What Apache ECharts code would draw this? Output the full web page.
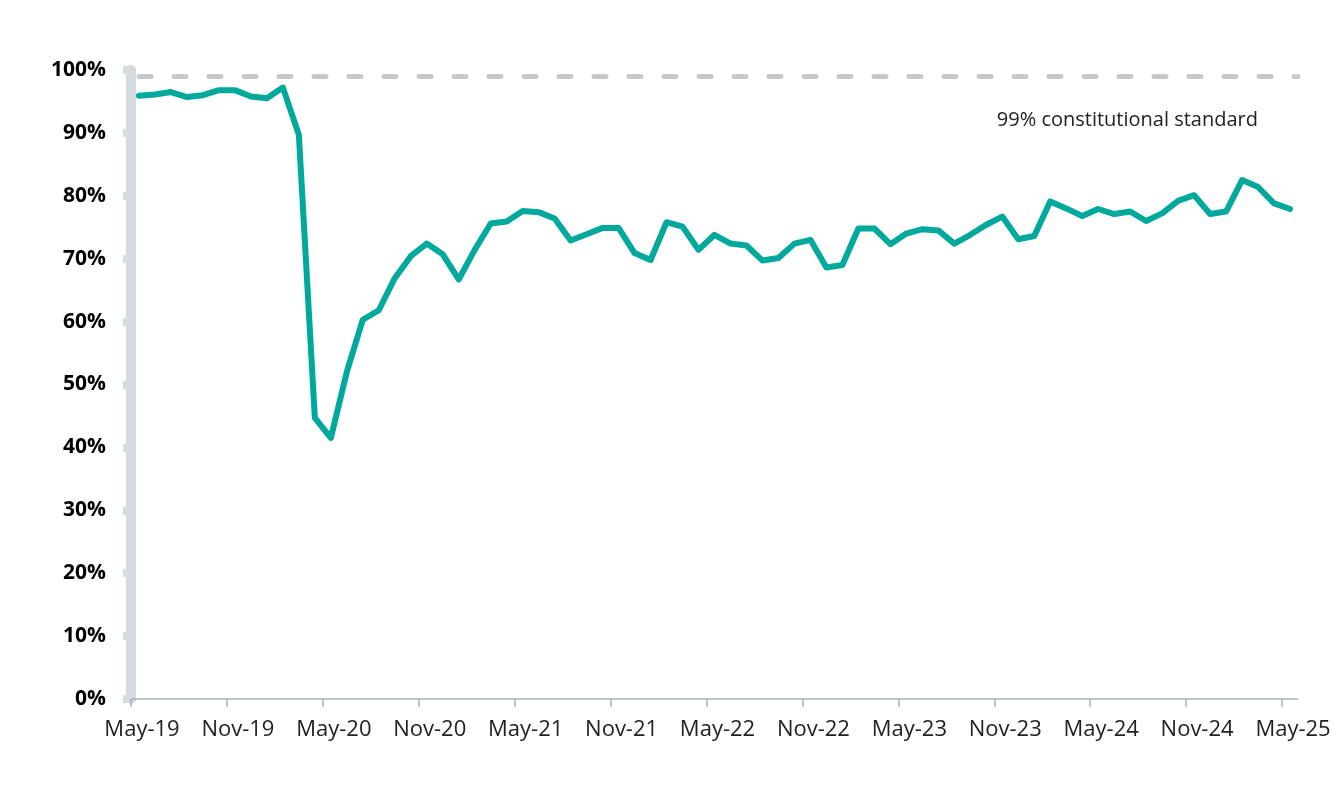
<!DOCTYPE html>
<html>
<head>
<meta charset="utf-8">
<script src="https://cdn.jsdelivr.net/npm/echarts@6/dist/echarts.min.js"></script>
<style>
html,body{margin:0;padding:0;background:#fff;}
#chart{width:1337px;height:788px;}
</style>
</head>
<body>
<div id="chart"></div>
<script>
// Months May-19 .. May-25
const categories = [
 'May-19','Jun-19','Jul-19','Aug-19','Sep-19','Oct-19','Nov-19','Dec-19','Jan-20','Feb-20','Mar-20','Apr-20',
 'May-20','Jun-20','Jul-20','Aug-20','Sep-20','Oct-20','Nov-20','Dec-20','Jan-21','Feb-21','Mar-21','Apr-21',
 'May-21','Jun-21','Jul-21','Aug-21','Sep-21','Oct-21','Nov-21','Dec-21','Jan-22','Feb-22','Mar-22','Apr-22',
 'May-22','Jun-22','Jul-22','Aug-22','Sep-22','Oct-22','Nov-22','Dec-22','Jan-23','Feb-23','Mar-23','Apr-23',
 'May-23','Jun-23','Jul-23','Aug-23','Sep-23','Oct-23','Nov-23','Dec-23','Jan-24','Feb-24','Mar-24','Apr-24',
 'May-24','Jun-24','Jul-24','Aug-24','Sep-24','Oct-24','Nov-24','Dec-24','Jan-25','Feb-25','Mar-25','Apr-25',
 'May-25'
];
// Percentage within standard
const values = [
 95.9, 96.1, 96.5, 95.7, 96.0, 96.8, 96.8, 95.8, 95.5, 97.2, 89.7, 44.7,
 41.5, 52.0, 60.3, 61.8, 66.9, 70.4, 72.4, 70.7, 66.7, 71.4, 75.6, 75.9,
 77.6, 77.4, 76.4, 72.9, 73.9, 74.9, 74.9, 70.9, 69.8, 75.8, 75.1, 71.4,
 73.8, 72.4, 72.1, 69.7, 70.1, 72.4, 73.0, 68.6, 69.0, 74.8, 74.8, 72.3,
 74.0, 74.7, 74.5, 72.4, 73.8, 75.4, 76.7, 73.1, 73.6, 79.1, 78.0, 76.8,
 77.9, 77.1, 77.5, 76.0, 77.2, 79.2, 80.1, 77.1, 77.5, 82.5, 81.4, 78.8,
 77.9
];
const standard = 99;
const standardLabel = '99% constitutional standard';
const yTicks = [0,10,20,30,40,50,60,70,80,90,100];
const labelEvery = 6;

const seriesData = values.map((v, i) => [i + 0.5, v]);
const xTickValues = categories.map((c, i) => i).filter(i => i % labelEvery === 0);

const chart = echarts.init(document.getElementById('chart'), null, {renderer: 'canvas'});
chart.setOption({
  animation: false,
  backgroundColor: '#ffffff',
  textStyle: {fontFamily: '"Open Sans", "Noto Sans", sans-serif'},
  grid: {left: 131, right: 39, top: 70, bottom: 89, containLabel: false},
  title: {
    text: standardLabel,
    right: 74, top: 105,
    textStyle: {fontFamily: '"Open Sans", sans-serif', fontSize: 20, fontWeight: 'normal', color: '#222'}
  },
  xAxis: {
    type: 'value',
    min: 0, max: categories.length,
    interval: labelEvery,
    splitLine: {show: false},
    axisLine: {show: true, lineStyle: {color: '#a9b3bd', width: 1.5}},
    axisTick: {show: true, length: 8, customValues: xTickValues, lineStyle: {color: '#a9b3bd', width: 1.5}},
    axisLabel: {
      customValues: xTickValues,
      formatter: v => categories[Math.round(v)] || '',
      fontSize: 22, color: '#222', margin: 20,
      padding: [0, 0, 0, 22],
      fontFamily: '"Open Sans", sans-serif'
    }
  },
  yAxis: {
    type: 'value',
    min: 0, max: 100, interval: 10,
    splitLine: {show: false},
    axisLine: {show: true, lineStyle: {color: '#d4dbe1', width: 10}},
    axisTick: {show: true, length: 8, lineStyle: {color: '#d4dbe1', width: 8}},
    axisLabel: {
      formatter: v => yTicks.includes(v) ? v + '%' : '',
      fontSize: 21, fontWeight: 'bold', color: '#000', margin: 25,
      fontFamily: '"Open Sans", sans-serif'
    }
  },
  series: [{
    type: 'line',
    data: seriesData,
    showSymbol: false,
    symbol: 'none',
    lineStyle: {color: '#00a99b', width: 6, join: 'round', cap: 'round'},
    z: 3,
    markLine: {
      silent: true,
      symbol: ['none', 'none'],
      label: {show: false},
      lineStyle: {color: '#c8c8c8', width: 5, type: [12, 23], cap: 'round'},
      data: [[{coord: [0.5, standard]}, {coord: [categories.length, standard]}]]
    }
  }]
});
</script>
</body>
</html>
